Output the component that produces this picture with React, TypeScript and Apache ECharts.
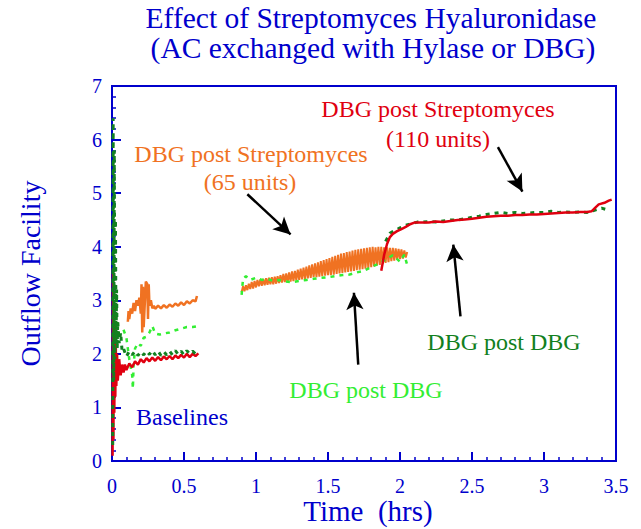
import React, { useEffect, useRef } from "react";
import * as echarts from "echarts";

const BLUE = "#0000CC";
const ORANGE = "#F07222";
const RED = "#E00010";
const LIGHT_GREEN = "#33EE33";
const DARK_GREEN = "#128020";
const FONT = "Liberation Serif";

const xTicks = [0, 0.5, 1, 1.5, 2, 2.5, 3, 3.5];
const yTicks = [0, 1, 2, 3, 4, 5, 6, 7];

// Baseline segments (0 - 0.6 hr)
const orangeBaseline: [number, number][] = [
  [0.11, 2.6], [0.115, 2.8], [0.12, 2.65], [0.13, 2.85], [0.14, 2.75], [0.15, 2.95], [0.16, 2.8],
  [0.17, 3.0], [0.18, 2.9], [0.19, 3.05], [0.2, 2.75], [0.205, 3.3], [0.21, 2.4], [0.215, 3.25],
  [0.22, 2.5], [0.235, 3.35], [0.245, 3.3], [0.25, 2.65], [0.255, 3.3], [0.26, 2.9], [0.27, 3.0],
  [0.28, 2.85], [0.29, 2.9], [0.3, 2.84], [0.32, 2.9], [0.34, 2.85], [0.36, 2.91], [0.38, 2.86],
  [0.4, 2.92], [0.42, 2.88], [0.44, 2.94], [0.46, 2.9], [0.48, 2.96], [0.5, 2.91], [0.52, 2.98],
  [0.54, 2.94], [0.56, 3.0], [0.58, 2.98], [0.59, 3.08],
];
const lightGreenBaseline: [number, number][] = [
  [0.08, 2.45], [0.1, 2.3], [0.12, 1.9], [0.13, 1.75], [0.14, 1.6], [0.145, 1.35], [0.15, 1.8],
  [0.16, 2.1], [0.18, 2.2], [0.2, 2.15], [0.22, 2.3], [0.24, 2.32], [0.26, 2.4], [0.28, 2.52],
  [0.3, 2.38], [0.33, 2.36], [0.36, 2.38], [0.4, 2.4], [0.44, 2.44], [0.48, 2.47], [0.52, 2.5],
  [0.56, 2.5], [0.6, 2.52],
];
const darkGreenBaseline: [number, number][] = [
  [0.005, 0.3], [0.008, 6.4], [0.012, 1.5], [0.016, 5.8], [0.02, 1.9], [0.024, 4.5], [0.028, 2.2],
  [0.032, 3.2], [0.036, 2.1], [0.04, 2.6], [0.05, 2.2], [0.06, 2.4], [0.07, 2.05], [0.08, 2.1],
  [0.1, 1.95], [0.12, 2.05], [0.14, 1.98], [0.16, 2.05], [0.18, 1.97], [0.2, 2.04], [0.22, 1.98],
  [0.24, 2.05], [0.26, 1.99], [0.28, 2.06], [0.3, 1.98], [0.32, 2.05], [0.34, 1.97], [0.36, 2.04],
  [0.38, 1.98], [0.4, 2.05], [0.42, 1.98], [0.44, 2.06], [0.46, 1.99], [0.48, 2.05], [0.5, 1.98],
  [0.52, 2.06], [0.54, 2.0], [0.56, 2.05], [0.58, 2.0], [0.6, 2.06],
];
const redBaseline: [number, number][] = [
  [0.004, 0.1], [0.007, 3.6], [0.01, 0.4], [0.013, 2.9], [0.016, 0.9], [0.02, 2.5], [0.023, 1.2],
  [0.026, 2.2], [0.03, 1.4], [0.035, 2.0], [0.04, 1.5], [0.05, 1.9], [0.06, 1.6], [0.07, 1.8],
  [0.08, 1.65], [0.09, 1.8], [0.1, 1.7], [0.12, 1.82], [0.14, 1.75], [0.16, 1.86], [0.18, 1.8],
  [0.2, 1.9], [0.22, 1.84], [0.24, 1.92], [0.26, 1.86], [0.28, 1.93], [0.3, 1.87], [0.32, 1.94],
  [0.34, 1.88], [0.36, 1.95], [0.38, 1.9], [0.4, 1.96], [0.42, 1.9], [0.44, 1.97], [0.46, 1.92],
  [0.48, 1.98], [0.5, 1.93], [0.52, 2.0], [0.54, 1.94], [0.56, 2.0], [0.58, 1.96], [0.6, 2.01],
];

// DBG post Streptomyces (65 units) and DBG post DBG, 0.9 - 2.05 hr
const orangeTreatment: [number, number][] = [
  [0.9, 3.15], [0.91, 3.26], [0.92, 3.17], [0.93, 3.28], [0.94, 3.19], [0.95, 3.31], [0.96, 3.21],
  [0.97, 3.34], [0.98, 3.22], [0.99, 3.36], [1.0, 3.24], [1.01, 3.38], [1.02, 3.26], [1.03, 3.39],
  [1.04, 3.27], [1.05, 3.4], [1.06, 3.28], [1.07, 3.41], [1.08, 3.29], [1.09, 3.42], [1.1, 3.3],
  [1.11, 3.43], [1.12, 3.3], [1.13, 3.44], [1.14, 3.31], [1.15, 3.45], [1.16, 3.32], [1.17, 3.47],
  [1.18, 3.33], [1.19, 3.49], [1.2, 3.34], [1.21, 3.5], [1.22, 3.34], [1.23, 3.52], [1.24, 3.35],
  [1.25, 3.54], [1.26, 3.36], [1.27, 3.55], [1.28, 3.37], [1.29, 3.57], [1.3, 3.38], [1.31, 3.59],
  [1.32, 3.39], [1.33, 3.61], [1.34, 3.4], [1.35, 3.63], [1.36, 3.41], [1.37, 3.65], [1.38, 3.42],
  [1.39, 3.67], [1.4, 3.43], [1.41, 3.69], [1.42, 3.43], [1.43, 3.71], [1.44, 3.44], [1.45, 3.73],
  [1.46, 3.45], [1.47, 3.75], [1.48, 3.46], [1.49, 3.77], [1.5, 3.47], [1.51, 3.79], [1.52, 3.47],
  [1.53, 3.81], [1.54, 3.48], [1.55, 3.83], [1.56, 3.49], [1.57, 3.85], [1.58, 3.5], [1.59, 3.87],
  [1.6, 3.51], [1.61, 3.88], [1.62, 3.52], [1.63, 3.9], [1.64, 3.53], [1.65, 3.91], [1.66, 3.54],
  [1.67, 3.93], [1.68, 3.55], [1.69, 3.94], [1.7, 3.56], [1.71, 3.95], [1.72, 3.57], [1.73, 3.96],
  [1.74, 3.58], [1.75, 3.97], [1.76, 3.59], [1.77, 3.98], [1.78, 3.6], [1.79, 3.99], [1.8, 3.62],
  [1.81, 4.0], [1.82, 3.63], [1.83, 3.99], [1.84, 3.65], [1.85, 4.0], [1.86, 3.66], [1.87, 4.0],
  [1.88, 3.68], [1.89, 3.99], [1.9, 3.7], [1.91, 3.99], [1.92, 3.71], [1.93, 3.98], [1.94, 3.73],
  [1.95, 3.98], [1.96, 3.74], [1.97, 3.97], [1.98, 3.76], [1.99, 3.96], [2.0, 3.77], [2.01, 3.95],
  [2.02, 3.78], [2.03, 3.93], [2.04, 3.8], [2.05, 3.9],
];
const lightGreenTreatment: [number, number][] = [
  [0.9, 3.1], [0.91, 3.4], [0.93, 3.45], [0.96, 3.38], [1.0, 3.42], [1.04, 3.38], [1.08, 3.4],
  [1.12, 3.36], [1.16, 3.38], [1.2, 3.35], [1.25, 3.34], [1.3, 3.36], [1.35, 3.38], [1.4, 3.4],
  [1.45, 3.42], [1.5, 3.43], [1.55, 3.45], [1.6, 3.47], [1.65, 3.48], [1.7, 3.52], [1.75, 3.55],
  [1.8, 3.62], [1.85, 3.68], [1.9, 3.76], [1.95, 3.84], [2.0, 3.72], [2.03, 3.85], [2.05, 3.66],
];

// DBG post Streptomyces (110 units) and DBG post DBG, 1.87 - 3.47 hr
const redTreatment: [number, number][] = [
  [1.87, 3.55], [1.89, 3.85], [1.91, 4.05], [1.93, 4.18], [1.95, 4.24], [1.98, 4.29], [2.01, 4.33],
  [2.04, 4.37], [2.07, 4.42], [2.1, 4.45], [2.15, 4.45], [2.2, 4.45], [2.25, 4.47], [2.3, 4.46],
  [2.35, 4.48], [2.4, 4.5], [2.45, 4.51], [2.5, 4.52], [2.55, 4.54], [2.6, 4.56], [2.65, 4.57],
  [2.7, 4.58], [2.75, 4.58], [2.8, 4.59], [2.85, 4.59], [2.9, 4.6], [2.95, 4.6], [3.0, 4.61],
  [3.05, 4.62], [3.1, 4.63], [3.15, 4.64], [3.2, 4.64], [3.25, 4.65], [3.3, 4.65], [3.33, 4.66],
  [3.36, 4.74], [3.38, 4.79], [3.42, 4.82], [3.45, 4.86], [3.47, 4.88],
];
const darkGreenTreatment: [number, number][] = [
  [1.9, 4.1], [1.93, 4.25], [1.96, 4.3], [2.0, 4.35], [2.04, 4.4], [2.08, 4.43], [2.12, 4.46],
  [2.16, 4.46], [2.2, 4.47], [2.25, 4.46], [2.3, 4.48], [2.35, 4.5], [2.4, 4.5], [2.45, 4.52],
  [2.5, 4.55], [2.55, 4.57], [2.6, 4.6], [2.65, 4.62], [2.7, 4.64], [2.75, 4.62], [2.8, 4.64],
  [2.85, 4.62], [2.9, 4.63], [2.95, 4.64], [3.0, 4.64], [3.05, 4.66], [3.1, 4.64], [3.15, 4.65],
  [3.2, 4.64], [3.25, 4.65], [3.3, 4.64], [3.35, 4.68], [3.4, 4.72], [3.45, 4.68],
];

// Arrows: [from, to] in data coordinates
const arrows: [[number, number], [number, number]][] = [
  [[0.94, 4.98], [1.24, 4.23]],
  [[1.71, 1.8], [1.68, 3.14]],
  [[2.42, 2.7], [2.37, 4.04]],
  [[2.68, 5.86], [2.85, 5.03]],
];

function lineSeries(data: [number, number][], color: string, width: number, dashed: boolean, z: number, extra: any = {}) {
  return {
    type: "line",
    data,
    showSymbol: false,
    symbol: "none",
    z,
    lineStyle: {
      color,
      width,
      type: dashed ? [4, 5] : "solid",
    },
    silent: true,
    ...extra,
  };
}

function label(text: string, x: number, y: number, color: string, size = 24) {
  return {
    type: "text",
    x,
    y,
    style: {
      text,
      fill: color,
      fontFamily: FONT,
      fontSize: size,
      align: "center",
      verticalAlign: "middle",
    },
  };
}

export default function App() {
  const ref = useRef<HTMLDivElement>(null);
  useEffect(() => {
    if (!ref.current) return;
    const chart = echarts.init(ref.current, undefined, { renderer: "svg" });
    const axisCommon = {
      axisLine: { show: true, lineStyle: { color: BLUE, width: 2 } },
      axisTick: { show: true, inside: true, length: 9, lineStyle: { color: BLUE, width: 2 } },
      minorTick: { show: true, splitNumber: 5, length: 4, lineStyle: { color: BLUE, width: 1.5 } },
      splitLine: { show: false },
      minorSplitLine: { show: false },
    };
    chart.setOption({
      animation: false,
      backgroundColor: "#ffffff",
      textStyle: { fontFamily: FONT },
      grid: {
        left: 112,
        right: 25,
        top: 86,
        bottom: 68,
        show: true,
        borderColor: BLUE,
        borderWidth: 2,
        backgroundColor: "transparent",
        containLabel: false,
        outerBoundsMode: "none",
      },
      xAxis: {
        type: "value",
        min: xTicks[0],
        max: xTicks[xTicks.length - 1],
        interval: 0.5,
        ...axisCommon,
        axisLabel: { color: BLUE, fontFamily: FONT, fontSize: 20, margin: 15 },
      },
      yAxis: {
        type: "value",
        min: yTicks[0],
        max: yTicks[yTicks.length - 1],
        interval: 1,
        ...axisCommon,
        axisLabel: { color: BLUE, fontFamily: FONT, fontSize: 20, margin: 10 },
        name: "Outflow Facility",
        nameLocation: "middle",
        nameRotate: 90,
        nameGap: 68,
        nameTextStyle: { color: BLUE, fontFamily: FONT, fontSize: 28 },
      },
      series: [
        lineSeries(orangeBaseline, ORANGE, 2.5, false, 2),
        lineSeries(orangeTreatment, ORANGE, 2, false, 2),
        lineSeries(lightGreenBaseline, LIGHT_GREEN, 2.5, true, 3),
        lineSeries(lightGreenTreatment, LIGHT_GREEN, 2.5, true, 3),
        lineSeries(redBaseline, RED, 2.5, false, 4),
        lineSeries(darkGreenBaseline, DARK_GREEN, 3, true, 5),
        lineSeries(darkGreenTreatment, DARK_GREEN, 3, true, 5),
        lineSeries(redTreatment, RED, 2.5, false, 6, {
          markLine: {
            silent: true,
            symbol: ["none", "arrow"],
            symbolSize: [13, 17],
            label: { show: false },
            lineStyle: { color: "#000000", width: 2.5, type: "solid" },
            emphasis: { disabled: true },
            data: arrows.map(([a, b]) => [{ coord: a }, { coord: b }]),
          },
        }),
      ],
      graphic: [
        label("Effect of Streptomyces Hyaluronidase", 371, 18, BLUE, 29.5),
        label("(AC exchanged with Hylase or DBG)", 373, 48, BLUE, 29.5),
        label("Time  (hrs)", 368, 511, BLUE, 29),
        label("DBG post Streptomyces", 438, 109, RED),
        label("(110 units)", 438, 139, RED),
        label("DBG post Streptomyces", 251, 154, ORANGE),
        label("(65 units)", 250, 182, ORANGE),
        label("Baselines", 182, 417, BLUE),
        label("DBG post DBG", 366, 390, LIGHT_GREEN),
        label("DBG post DBG", 504, 342, DARK_GREEN),
      ],
    });
    return () => chart.dispose();
  }, []);
  return (
    <div
      ref={ref}
      style={{ position: "absolute", left: 0, top: 0, width: 641, height: 529, background: "#fff" }}
    />
  );
}
